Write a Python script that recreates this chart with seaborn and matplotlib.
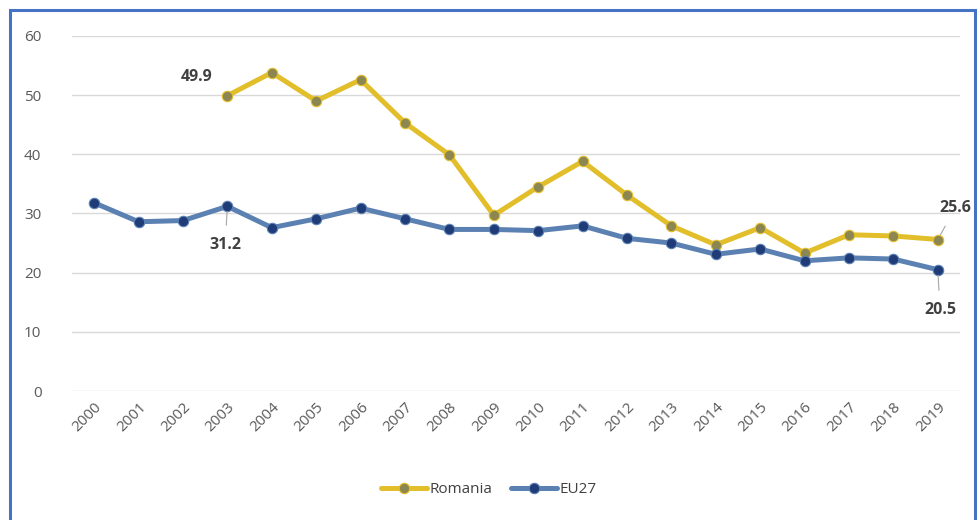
import pandas as pd
import matplotlib.pyplot as plt
import seaborn as sns
from matplotlib.patches import Rectangle

# Dados
anos = list(range(2000, 2020))
romania = [None, None, None, 49.9, 53.8, 49.0, 52.6, 45.3, 39.9, 29.7,
           34.5, 38.8, 33.1, 27.9, 24.7, 27.6, 23.3, 26.4, 26.2, 25.6]
eu27 = [31.8, 28.6, 28.8, 31.2, 27.6, 29.1, 30.9, 29.1, 27.3, 27.3,
        27.1, 27.9, 25.8, 25.0, 23.1, 24.0, 22.0, 22.5, 22.3, 20.5]

df = pd.DataFrame({"ano": anos, "Romania": romania, "EU27": eu27})

sns.set_theme(style="white")
plt.rcParams['font.family'] = ['Open Sans', 'DejaVu Sans']

fig = plt.figure(figsize=(9.78, 5.2), dpi=100)
ax = fig.add_axes([0.0736, 0.248, 0.908, 0.683])

# Moldura azul em volta da figura
fig.patches.append(Rectangle((10 / 978, -0.05), 965 / 978, 1 - 10 / 520 + 0.05,
                             transform=fig.transFigure, fill=False,
                             edgecolor="#4472C4", linewidth=2.2))

cor_ro_linha, cor_ro_marc = "#E2BE2A", "#8C8650"
cor_eu_linha, cor_eu_marc = "#5B80B2", "#1F3B78"

sns.lineplot(data=df, x="ano", y="Romania", ax=ax, color=cor_ro_linha, linewidth=3.6,
             marker="o", markersize=7.5, markerfacecolor=cor_ro_marc,
             markeredgecolor=cor_ro_linha, markeredgewidth=0.8, label="Romania")
sns.lineplot(data=df, x="ano", y="EU27", ax=ax, color=cor_eu_linha, linewidth=3.6,
             marker="o", markersize=7.5, markerfacecolor=cor_eu_marc,
             markeredgecolor=cor_eu_linha, markeredgewidth=0.8, label="EU27")

ax.set_xlim(1999.5, 2019.5)
ax.set_ylim(0, 60)
ax.set_yticks(range(0, 61, 10))
ax.set_xticks(anos)
ax.set_xticklabels([str(a) for a in anos], rotation=45, ha="right",
                   rotation_mode="anchor")
ax.tick_params(axis="both", colors="#595959", labelsize=11, length=0)
ax.tick_params(axis="x", pad=6)
ax.tick_params(axis="y", pad=22)
ax.yaxis.grid(True, color="#D9D9D9", linewidth=1)
for s in ax.spines.values():
    s.set_visible(False)
ax.set_xlabel("")
ax.set_ylabel("")

# Rótulos de valores
estilo = dict(fontsize=11.5, fontweight="bold", color="#404040")
ax.annotate("49.9", xy=(2003, 49.9), xytext=(2002.3, 53.0), ha="center", va="center", **estilo)
ax.annotate("31.2", xy=(2003, 31.2), xytext=(2002.95, 24.7), ha="center", va="center",
            arrowprops=dict(arrowstyle="-", color="#A6A6A6", lw=0.8, shrinkA=6, shrinkB=4), **estilo)
ax.annotate("25.6", xy=(2019, 25.6), xytext=(2019.4, 31.0), ha="center", va="center",
            arrowprops=dict(arrowstyle="-", color="#A6A6A6", lw=0.8, shrinkA=6, shrinkB=4), **estilo)
ax.annotate("20.5", xy=(2019, 20.5), xytext=(2019.05, 13.7), ha="center", va="center",
            arrowprops=dict(arrowstyle="-", color="#A6A6A6", lw=0.8, shrinkA=6, shrinkB=4), **estilo)

ax.legend_.remove()
handles, labels = ax.get_legend_handles_labels()
fig.legend(handles, labels, loc="center", bbox_to_anchor=(0.5, 0.058), ncol=2,
           frameon=False, fontsize=11, handlelength=3, handletextpad=0.2,
           columnspacing=1.2, labelcolor="#404040")

fig.savefig("out.png", dpi=100)
